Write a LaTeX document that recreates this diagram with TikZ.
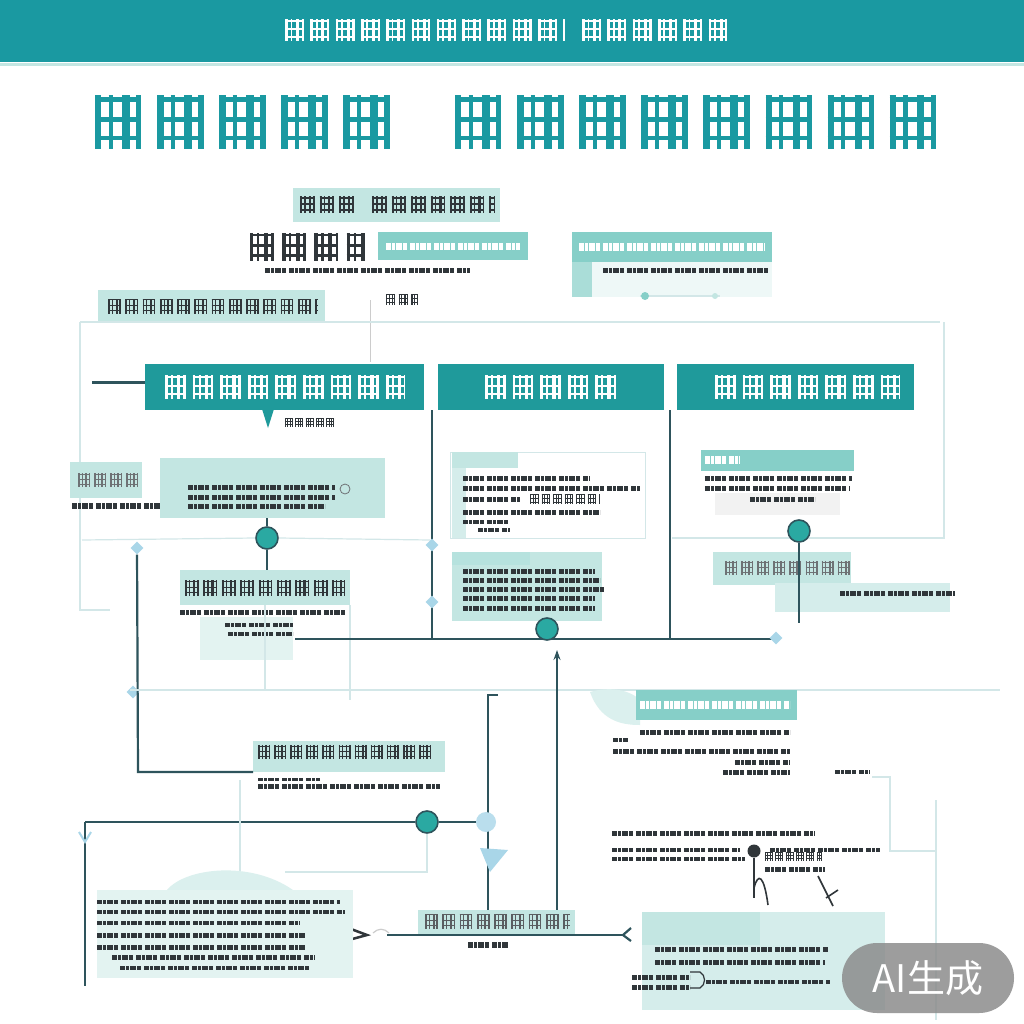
\documentclass[tikz,border=0pt]{standalone}
\usepackage{fontspec}
\newfontfamily\cjkfont{Noto Sans CJK SC}
\usetikzlibrary{arrows.meta,shapes.geometric}
\definecolor{tealA}{HTML}{1A99A1}
\definecolor{tealB}{HTML}{1F9A9B}
\definecolor{tealC}{HTML}{2AA9A2}
\definecolor{mteal}{HTML}{86CFC8}
\definecolor{lteal}{HTML}{C3E6E2}
\definecolor{pteal}{HTML}{E3F3F1}
\definecolor{dline}{HTML}{2E545C}
\definecolor{gline}{HTML}{D3E7E8}
\definecolor{ink}{HTML}{30363A}
\definecolor{sky}{HTML}{A9D6E8}
\definecolor{pill}{HTML}{8C8C8C}
% box: name, x, y, w, h, style
\newcommand\bx[6]{\node[#6, anchor=north west, inner sep=0pt, outer sep=0pt, minimum width=#4pt, minimum height=#5pt] (#1) at (#2,#3) {};}
% small illegible text line: [colour] x1 x2 y h
\newcommand\tline[5][ink]{\draw[#1, line width=#5pt, dash pattern=on 5pt off 1pt on 3pt off 1pt on 6pt off 1pt on 4pt off 3pt] (#2,#4) -- (#3,#4);}
% illegible glyph row: [colour] x1 x2 y h
\newcommand\glyphs[5][ink]{%
 \pgfmathsetmacro\gA{0.12*#5}\pgfmathsetmacro\gB{0.13*#5}\pgfmathsetmacro\gC{0.08*#5}%
 \pgfmathsetmacro\gD{0.17*#5}\pgfmathsetmacro\gE{0.14*#5}\pgfmathsetmacro\gF{0.12*#5}%
 \pgfmathsetmacro\gG{0.10*#5}\pgfmathsetmacro\gZ{0.29*#5}\pgfmathsetmacro\gW{0.86*#5}%
 \pgfmathsetmacro\gT{0.085*#5}%
 \draw[#1, line width=#5pt, dash pattern=on \gA pt off \gB pt on \gC pt off \gD pt on \gE pt off \gF pt on \gG pt off \gZ pt] (#2,#4) -- (#3,#4);
 \foreach \dy in {-0.42,-0.05,0.3}{\draw[#1, line width=\gT pt, dash pattern=on \gW pt off \gZ pt] (#2,{#4+(\dy)*#5}) -- (#3,{#4+(\dy)*#5});}%
}
\begin{document}
\begin{tikzpicture}[x=1pt,y=-1pt,
 dot/.style={circle, fill=tealC, draw=dline, line width=1.6pt, minimum size=22pt, inner sep=0pt},
 spark/.style={diamond, fill=sky, minimum size=13pt, inner sep=0pt},
 dl/.style={dline, line width=2.2pt},
 gl/.style={gline, line width=1.2pt}]
\useasboundingbox (0,0) rectangle (1024,1024);
\fill[white] (0,0) rectangle (1024,1024);
% ---------- header band and title
\fill[tealA] (0,0) rectangle (1024,62);
\fill[lteal] (0,63) rectangle (1024,66);
\glyphs[white]{285}{565}{30}{22}
\glyphs[white]{582}{730}{30}{22}
\glyphs[tealA]{95}{400}{122}{54}
\glyphs[tealA]{455}{940}{122}{54}
% ---------- top boxes
\bx{b1}{293}{188}{207}{34}{fill=lteal}
\glyphs{300}{355}{205}{17}
\glyphs{372}{495}{205}{17}
\glyphs{250}{365}{247}{28}
\bx{b2}{378}{232}{150}{28}{fill=mteal}
\tline[white]{386}{520}{246}{7}
\tline{265}{470}{270}{5}
\bx{b3}{572}{232}{200}{30}{fill=mteal}
\tline[white]{579}{765}{247}{8}
\fill[mteal!70] (572,262) rectangle (592,297);
\fill[pteal!60] (592,262) rectangle (772,297);
\tline{603}{770}{270}{5}
\draw[gl] (640,296) -- (720,296);
\fill[mteal] (645,296) circle (4);
\fill[lteal] (715,296) circle (3);
\bx{b4}{98}{290}{227}{32}{fill=lteal}
\glyphs{108}{318}{306}{15}
\glyphs{386}{418}{299}{11}
\coordinate (v1) at (370,300);
\draw[gray!40, line width=1pt] (v1) -- (v1 |- 0,362);
% ---------- frame
\draw[gl] (80,322) -- (940,322);
\draw[gl] (80,322) -- (80,610) -- (110,610);
\draw[gl] (944,322) -- (944,538) -- (672,538);
% ---------- column headers
\bx{h1}{145}{364}{279}{46}{fill=tealB}
\bx{h2}{438}{364}{226}{46}{fill=tealB}
\bx{h3}{677}{364}{237}{46}{fill=tealB}
\glyphs[white]{165}{405}{387}{24}
\glyphs[white]{485}{620}{387}{24}
\glyphs[white]{715}{900}{387}{24}
\coordinate (lstub) at (92,382);
\draw[dl, line width=3pt] (lstub) -- (h1.west |- lstub);
\fill[tealB] (262,409) -- (274,409) -- (268,428) -- cycle;
\glyphs{285}{335}{422}{9}
\draw[dl] (432,410) -- (432,640);
\draw[dl] (670,410) -- (670,640);
% ---------- left column
\bx{lb1}{70}{462}{72}{36}{fill=lteal}
\glyphs[ink!70]{78}{140}{480}{14}
\tline{72}{165}{506}{6}
\bx{lb2}{160}{458}{225}{60}{fill=lteal}
\tline{188}{335}{487}{5}
\tline{188}{335}{497}{5}
\tline{188}{325}{506}{5}
\draw[ink!70, line width=0.8pt] (345,489) circle (5);
\bx{lb3}{180}{570}{170}{35}{fill=lteal}
\glyphs{185}{345}{588}{16}
\tline{180}{345}{612}{5}
\fill[pteal] (200,617) rectangle (293,660);
\tline{225}{293}{625}{4}
\tline{228}{293}{634}{4}
\node[dot] (c1) at (267,538) {};
\draw[gl] (82,540) -- (c1.west);
\draw[gl] (c1.east) -- (430,540);
\draw[dl, line width=1.5pt] (lb2.south -| c1) -- (c1);
\draw[dl, line width=1.5pt] (c1) -- (lb3.north -| c1);
\node[spark] (s1) at (137,548) {};
\node[spark] (s6) at (133,692) {};
\coordinate (lc) at (138,772);
\bx{bb1}{253}{741}{192}{31}{fill=lteal}
\draw[dl] (s1) -- (lc) -- (bb1.west |- lc);
\draw[gl] (265,605) -- (265,690);
\draw[gl] (350,605) -- (350,700);
% ---------- middle column
\bx{mb1}{450}{452}{195}{86}{fill=white, draw=gline, line width=1pt}
\fill[lteal!70] (452,452) rectangle (466,538);
\fill[lteal] (452,452) rectangle (518,468);
\tline{463}{590}{478}{5}
\tline{463}{640}{488}{5}
\tline{463}{520}{499}{5}
\glyphs{530}{600}{499}{10}
\tline{463}{600}{512}{5}
\tline{463}{510}{522}{4}
\tline{478}{510}{530}{4}
\bx{mb2}{452}{552}{150}{69}{fill=lteal}
\fill[mteal!60] (452,552) rectangle (530,565);
\tline{463}{595}{571}{5}
\tline{463}{600}{580}{5}
\tline{463}{605}{589}{5}
\tline{463}{595}{598}{5}
\tline{463}{595}{608}{5}
\node[spark] (s2) at (432,545) {};
\node[spark] (s3) at (432,602) {};
% main dark horizontal
\coordinate (hl) at (295,639);
\coordinate (hr) at (780,639);
\draw[dl] (hl) -- (hr);
\node[dot] (c2) at (547,629) {};
\node[spark] (s4) at (776,638) {};
% ---------- right column
\bx{rb1}{701}{450}{153}{21}{fill=mteal}
\tline[white]{705}{740}{460}{8}
\fill[gray!10] (715,493) rectangle (840,515);
\tline{705}{852}{478}{5}
\tline{705}{850}{488}{5}
\tline{750}{815}{499}{5}
\node[dot] (c3) at (799,531) {};
\bx{rb2}{713}{552}{138}{33}{fill=lteal}
\glyphs[ink!70]{725}{850}{568}{14}
\bx{rb3}{775}{583}{175}{29}{fill=lteal!70}
\tline{840}{955}{593}{5}
\draw[dl, line width=1.2pt] (c3) -- (799,623);
% ---------- lower middle
\draw[gl] (130,690) -- (1000,690);
\coordinate (v2t) at (488,695);
\coordinate (v2b) at (488,910);
\draw[dl] (498,695) -- (v2t) -- (v2b);
\coordinate (v3t) at (557,650);
\coordinate (v3b) at (557,935);
\draw[dl, -{Stealth[length=10pt,width=7pt]}] (v3b) -- (v3t);
\glyphs{258}{430}{752}{14}
\tline{258}{320}{779}{3}
\tline{258}{440}{786}{5}
\node[dot] (c4) at (427,822) {};
\node[circle, fill=sky!80, minimum size=20pt, inner sep=0pt] (c5) at (486,822) {};
\coordinate (ll) at (85,822);
\coordinate (lb) at (85,986);
\draw[dl, line width=1.6pt] (ll) -- (c4) -- (c5);
\draw[dl] (ll) -- (lb);
\draw[sky, line width=2pt] (79,832) -- (85,842) -- (91,832);
\draw[gl] (c4) -- (427,872) -- (285,872);
\draw[gl] (240,780) -- (240,880);
\fill[sky] (480,848) -- (508,850) -- (490,872) -- cycle;
% right middle
\fill[lteal!60] (590,692) .. controls (610,686) and (630,690) .. (640,700) -- (640,725) .. controls (620,725) and (600,720) .. (590,692) -- cycle;
\bx{rb4}{636}{690}{161}{30}{fill=mteal}
\tline[white]{640}{790}{705}{8}
\tline{640}{790}{732}{5}
\tline{613}{628}{740}{4}
\tline{613}{790}{751}{5}
\tline{735}{790}{762}{5}
\tline{723}{790}{772}{5}
\tline{835}{870}{772}{4}
\draw[gl] (872,777) -- (890,777) -- (890,851) -- (936,851);
\draw[gl] (936,800) -- (936,1020);
% annotations lower right
\tline{612}{815}{833}{5}
\tline{612}{740}{850}{4}
\tline{770}{880}{850}{4}
\tline{612}{745}{859}{4}
\node[circle, fill=ink, minimum size=13pt, inner sep=0pt] (d1) at (754,851) {};
\glyphs{765}{822}{856}{9}
\tline{765}{825}{869}{5}
\draw[ink, line width=1.6pt] (d1) -- (754,898);
\draw[ink, line width=1.6pt] (754,888) .. controls (758,872) and (764,875) .. (768,905);
\draw[ink, line width=1.6pt] (818,876) -- (833,906);
\draw[ink, line width=1.6pt] (826,898) -- (838,890);
% bottom boxes
\bx{bb2}{418}{910}{157}{24}{fill=lteal}
\glyphs[ink!80]{425}{570}{921}{15}
\coordinate (bl) at (387,935);
\coordinate (br) at (623,935);
\draw[dl] (bl) -- (br);
\draw[ink, line width=2.5pt] (343,926) -- (367,935) -- (345,941);
\draw[gray!40, line width=1.2pt] (373,933) .. controls (378,928) and (384,928) .. (389,933);
\draw[dl] (631,928) -- (br) -- (631,941);
\tline{468}{508}{945}{6}
% bottom-left text block
\fill[lteal!60] (167,890) .. controls (185,868) and (250,860) .. (293,890) -- cycle;
\fill[pteal] (97,890) rectangle (353,978);
\tline{97}{340}{902}{4}
\tline{97}{345}{912}{4}
\tline{97}{300}{923}{4}
\tline{97}{305}{935}{5}
\tline{97}{305}{947}{5}
\tline{112}{315}{957}{5}
\tline{120}{310}{968}{4}
% bottom-right box
\bx{bb3}{642}{912}{243}{98}{fill=lteal!70}
\fill[lteal] (642,912) rectangle (760,945);
\tline{655}{828}{949}{5}
\tline{655}{825}{962}{5}
\tline{632}{690}{977}{5}
\tline{632}{690}{987}{5}
\draw[ink, line width=1.2pt] (690,972) -- (700,972) .. controls (706,975) and (706,985) .. (700,988) -- (690,988);
\tline{706}{830}{982}{4}
% watermark
\node[fill=pill, fill opacity=0.85, text opacity=1, text=white, rounded corners=35pt, minimum width=172pt, minimum height=70pt, inner sep=0pt, font=\cjkfont\fontsize{38}{40}\selectfont] (wm) at (928,978) {AI生成};
\end{tikzpicture}
\end{document}
